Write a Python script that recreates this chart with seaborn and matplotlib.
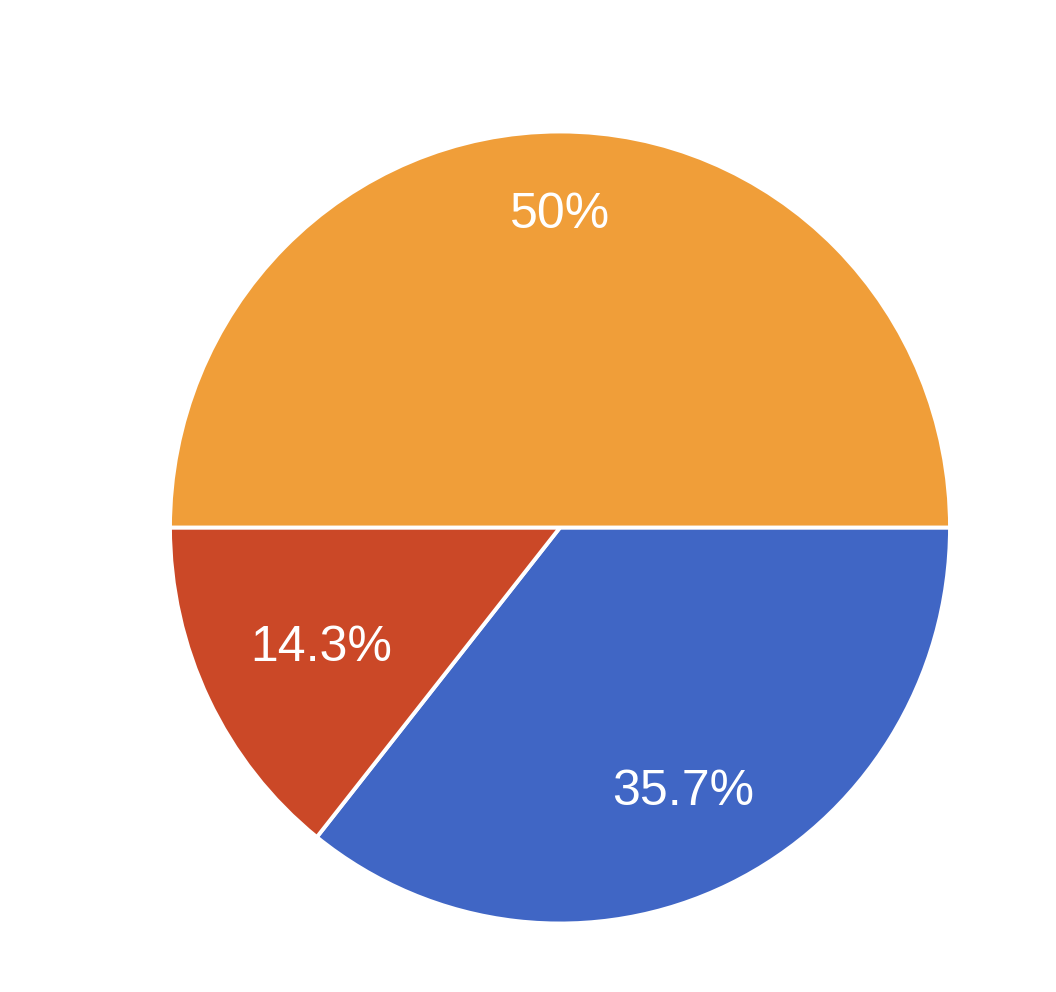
import matplotlib
matplotlib.use("Agg")
import matplotlib.pyplot as plt
import numpy as np
import seaborn as sns

# slice data, clockwise from 3 o'clock
categories = ["B", "C", "A"]
counts = [5, 2, 7]
colors = ["#4066C5", "#CB4827", "#F09E39"]
# radial position of each percentage label (fraction of radius)
label_radius = [0.73, 0.68, 0.80]

sns.set_theme(style="white")
plt.rcParams["font.family"] = ["Liberation Sans", "DejaVu Sans"]

W, H = 1056, 992
fig = plt.figure(figsize=(W / 100, H / 100), dpi=100)
# the reference pie is very slightly taller than wide
cx, cy, rx, ry = 560, 527.5, 390, 396
ax = fig.add_axes([(cx - rx) / W, (H - cy - ry) / H, 2 * rx / W, 2 * ry / H])

wedges, _ = ax.pie(counts, colors=colors, startangle=0, counterclock=False,
                   radius=1, wedgeprops=dict(edgecolor="white", linewidth=2.8))

total = sum(counts)
for w, c, lr in zip(wedges, counts, label_radius):
    pct = 100 * c / total
    txt = f"{pct:.1f}".rstrip("0").rstrip(".") + "%"
    mid = np.deg2rad((w.theta1 + w.theta2) / 2)
    ax.text(lr * np.cos(mid), lr * np.sin(mid) - 0.01, txt, color="white",
            fontsize=36, ha="center", va="center")

ax.set_xlim(-1, 1)
ax.set_ylim(-1, 1)
ax.set_aspect("auto")
ax.axis("off")

fig.savefig("out.png", dpi=100)
